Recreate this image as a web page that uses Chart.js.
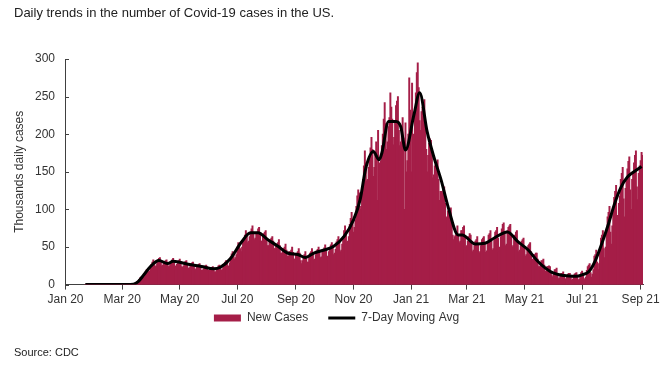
<!DOCTYPE html>
<html>
<head>
<meta charset="utf-8">
<script src="https://cdn.jsdelivr.net/npm/chart.js@4/dist/chart.umd.min.js"></script>
<style>
  body { margin: 0; background: #fff; }
  #wrap { position: relative; width: 670px; height: 365px; font-family: "Liberation Sans", Arial, sans-serif; color: #222; }
  #chart { position: absolute; left: 0; top: 0; }
  .note { position: absolute; left: 14px; white-space: nowrap; }
</style>
</head>
<body>
<div id="wrap">
  <canvas id="chart" width="670" height="365"></canvas>
  <div class="note" style="top:5px; font-size:13px">Daily trends in the number of Covid-19 cases in the US.</div>
  <div class="note" style="top:346px; font-size:11px">Source: CDC</div>
</div>
<script>
// daily new cases, thousands, one row per week (rows start on Wednesday, first row = 1 Jan 2020)
const startDate = "2020-01-01";
const newCases = [
  null, null, null, null, null, null, null,
  null, null, null, null, null, null, null,
  null, null, null, null, null, null, null,
  0, 0, 0, 0, 0, 0, 0, // Jan 22
  0, 0, 0, 0, 0, 0, 0,
  0, 0, 0, 0, 0, 0, 0,
  0, 0, 0, 0, 0, 0, 0,
  0, 0, 0, 0, 0, 0, 0,
  0, 0, 0, 0, 0, 0.1, 0.1, // Feb 26
  0.1, 0.1, 0.2, 0.2, 0.2, 0.4, 0.5,
  0.6, 0.9, 1.2, 1.5, 2.0, 2.8, 3.6,
  5, 7, 9, 10, 8, 10, 11, // Mar 18
  15, 18, 20, 20, 17, 18, 23,
  27, 30, 33, 30, 24, 25, 28, // Apr 1
  33, 35, 36, 31, 25, 26, 29,
  30, 32, 33, 30, 24, 25, 27,
  30, 33, 35, 32, 25, 24, 27,
  30, 32, 34, 30, 24, 23, 25, // Apr 29
  29, 31, 32, 28, 22, 22, 24,
  27, 29, 30, 26, 21, 20, 23,
  25, 27, 28, 24, 19, 19, 21,
  22, 25, 26, 24, 19, 19, 21, // May 27
  22, 23, 24, 22, 17, 17, 20,
  23, 25, 26, 24, 19, 20, 23,
  27, 30, 32, 30, 24, 25, 29,
  37, 41, 44, 42, 34, 36, 40, // Jun 24
  50, 56, 54, 48, 44, 50, 58,
  62, 66, 72, 66, 56, 58, 64,
  70, 74, 78, 70, 60, 62, 68,
  70, 74, 76, 68, 58, 58, 64, // Jul 22
  68, 70, 72, 62, 52, 52, 58,
  60, 62, 64, 58, 48, 48, 54,
  54, 56, 60, 52, 42, 42, 48,
  48, 50, 54, 46, 38, 38, 44, // Aug 19
  44, 46, 50, 43, 34, 34, 39,
  42, 44, 48, 42, 32, 28, 32,
  38, 40, 44, 38, 30, 30, 36,
  42, 44, 48, 42, 33, 34, 40, // Sep 16
  45, 47, 50, 45, 36, 37, 43,
  47, 49, 53, 47, 37, 38, 44,
  50, 53, 56, 50, 40, 42, 47,
  57, 60, 64, 56, 44, 46, 54, // Oct 14
  64, 72, 78, 70, 56, 58, 64,
  80, 88, 96, 86, 70, 76, 86,
  104, 118, 126, 122, 100, 104, 120,
  140, 158, 178, 162, 138, 140, 156, // Nov 11
  168, 182, 196, 180, 144, 156, 172,
  190, 112, 205, 162, 145, 165, 185,
  200, 220, 242, 214, 180, 190, 210,
  222, 255, 236, 220, 186, 196, 218, // Dec 9
  238, 244, 250, 205, 185, 190, 205,
  222, 195, 100, 215, 150, 165, 200,
  275, 232, 150, 268, 200, 190, 225,
  255, 282, 295, 262, 218, 205, 230, // Jan 6 2021
  236, 240, 246, 212, 180, 150, 172,
  188, 194, 192, 172, 142, 146, 158,
  160, 162, 166, 140, 112, 124, 124,
  122, 126, 130, 108, 88, 90, 98, // Feb 3
  98, 100, 102, 84, 66, 60, 64,
  66, 70, 78, 66, 56, 58, 72,
  72, 76, 78, 64, 50, 52, 58,
  64, 68, 66, 58, 44, 46, 52, // Mar 3
  58, 60, 64, 54, 42, 44, 52,
  60, 62, 64, 54, 43, 45, 55,
  66, 68, 72, 58, 46, 48, 60,
  70, 72, 76, 62, 44, 50, 64, // Mar 31
  74, 80, 82, 68, 52, 54, 72,
  76, 78, 80, 66, 50, 52, 64,
  66, 70, 72, 58, 44, 46, 52,
  58, 60, 62, 50, 38, 40, 48, // Apr 28
  52, 54, 56, 44, 32, 34, 40,
  40, 42, 42, 34, 24, 24, 30,
  32, 32, 34, 26, 18, 18, 24,
  24, 25, 24, 16, 12, 10, 16, // May 26
  20, 20, 22, 14, 8, 9, 12,
  15, 15, 17, 11, 7, 8, 12,
  14, 15, 15, 10, 6, 7, 10,
  14, 15, 16, 10, 6, 7, 11, // Jun 23
  16, 18, 14, 8, 6, 10, 19,
  24, 26, 28, 16, 10, 14, 20,
  38, 40, 46, 30, 20, 28, 42,
  62, 66, 72, 48, 36, 50, 68, // Jul 21
  90, 96, 104, 70, 54, 78, 98,
  116, 124, 132, 92, 72, 108, 118,
  140, 148, 156, 114, 90, 128, 138,
  154, 164, 170, 126, 100, 140, 150, // Aug 18
  162, 172, 178, 130, 113, 148, 158,
  165, 176, 172
];

// 7-day moving average
const avgDates = [
  "2020-01-22", "2020-02-15", "2020-03-05", "2020-03-13", "2020-03-18", "2020-03-24",
  "2020-03-31", "2020-04-09", "2020-04-18", "2020-04-24", "2020-05-10", "2020-05-24",
  "2020-06-06", "2020-06-13", "2020-06-24", "2020-07-05", "2020-07-15", "2020-07-23",
  "2020-08-02", "2020-08-13", "2020-08-23", "2020-09-03", "2020-09-11", "2020-09-20",
  "2020-10-01", "2020-10-11", "2020-10-22", "2020-11-01", "2020-11-08", "2020-11-14",
  "2020-11-22", "2020-11-28", "2020-12-01", "2020-12-08", "2020-12-16", "2020-12-21",
  "2020-12-26", "2021-01-04", "2021-01-10", "2021-01-18", "2021-01-25", "2021-02-02",
  "2021-02-09", "2021-02-20", "2021-02-24", "2021-03-10", "2021-03-20", "2021-03-30",
  "2021-04-13", "2021-04-24", "2021-05-05", "2021-05-15", "2021-05-29", "2021-06-12",
  "2021-06-25", "2021-07-01", "2021-07-08", "2021-07-15", "2021-07-22", "2021-07-29",
  "2021-08-04", "2021-08-11", "2021-08-18", "2021-08-25", "2021-09-02"
];
const avgValues = [
  0, 0, 0, 0.5, 4, 13,
  24, 32, 28, 31, 27, 24,
  21, 23, 35, 56, 69, 69,
  60, 51, 42, 40, 36, 42,
  46, 51, 64, 86, 113, 155,
  177, 166, 175, 217, 217, 210,
  179, 226, 255, 203, 170, 138,
  104, 66, 66, 54, 55, 62,
  70, 57, 46, 31, 17, 12,
  11, 13, 17, 32, 55, 81,
  106, 129, 143, 150, 157
];

const monthNames = ["Jan", "Feb", "Mar", "Apr", "May", "Jun", "Jul", "Aug", "Sep", "Oct", "Nov", "Dec"];
const barColor = "#A51E48";

// one label per day
const labels = [];
const t0 = Date.parse(startDate + "T00:00:00Z");
for (let i = 0; i < newCases.length; i++) {
  labels.push(new Date(t0 + i * 86400000).toISOString().slice(0, 10));
}

// the line only has values on the dates
const avgData = labels.map(() => null);
avgDates.forEach((d, i) => {
  const idx = labels.indexOf(d);
  if (idx >= 0) avgData[idx] = avgValues[i];
});

// ticks pointing inside on the value axis
const yTicksInside = {
  id: "yTicksInside",
  afterDraw(chart) {
    const y = chart.scales.y;
    const ctx = chart.ctx;
    ctx.save();
    ctx.strokeStyle = "#404040";
    ctx.lineWidth = 1;
    y.ticks.forEach((t) => {
      const py = Math.round(y.getPixelForValue(t.value)) + 0.5;
      ctx.beginPath();
      ctx.moveTo(y.right, py);
      ctx.lineTo(y.right + 4, py);
      ctx.stroke();
    });
    ctx.restore();
  },
};

// legend sits right under the date labels (legend padding is also the gap between items)
const legendUp = {
  id: "legendUp",
  beforeDraw(chart) {
    const lg = chart.legend;
    if (!lg || lg._movedUp) return;
    lg.top -= 18;
    lg.bottom -= 18;
    lg._movedUp = true;
  },
  afterUpdate(chart) {
    if (chart.legend) chart.legend._movedUp = false;
  },
};

Chart.defaults.font.family = '"Liberation Sans", Arial, sans-serif';
Chart.defaults.font.size = 12;
Chart.defaults.color = "#333";

const config = {
  type: "bar",
  data: {
    labels: labels,
    datasets: [
      {
        label: "New Cases",
        data: newCases,
        backgroundColor: barColor,
        borderWidth: 0,
        barThickness: 1.3,
        grouped: false,
        order: 1,
      },
      {
        type: "line",
        label: "7-Day Moving Avg",
        data: avgData,
        borderColor: "#000",
        backgroundColor: "#000",
        borderWidth: 3,
        pointRadius: 0,
        spanGaps: true,
        cubicInterpolationMode: "monotone",
        order: 0,
      },
    ],
  },
  options: {
    responsive: false,
    animation: false,
    layout: { padding: { left: 30, right: 27, top: 59, bottom: 13 } },
    plugins: {
      tooltip: { enabled: false },
      legend: {
        position: "bottom",
        labels: {
          usePointStyle: true,
          pointStyleWidth: 27,
          boxHeight: 7,
          padding: 20,
          color: "#333",
          sort: (a, b) => a.datasetIndex - b.datasetIndex,
          generateLabels: (chart) => {
            const items = Chart.defaults.plugins.legend.labels.generateLabels(chart);
            items.forEach((it) => {
              if (it.datasetIndex === 0) {
                it.pointStyle = "rect";
                it.lineWidth = 0;
                it.fillStyle = barColor;
              } else {
                it.pointStyle = "line";
                it.strokeStyle = "#000";
                it.lineWidth = 3;
              }
            });
            return items;
          },
        },
      },
    },
    scales: {
      x: {
        grid: { drawOnChartArea: false, drawTicks: true, tickLength: 5, offset: false, color: "#404040" },
        border: { color: "#404040" },
        afterBuildTicks: (axis) => {
          // keep the first day of every other month
          axis.ticks = axis.ticks.filter((t) => {
            const d = labels[t.value];
            return d.slice(8) === "01" && Number(d.slice(5, 7)) % 2 === 1;
          });
        },
        ticks: {
          autoSkip: false,
          maxRotation: 0,
          minRotation: 0,
          padding: 3,
          callback: function (value) {
            const d = this.getLabelForValue(value);
            return monthNames[Number(d.slice(5, 7)) - 1] + " " + d.slice(2, 4);
          },
        },
      },
      y: {
        min: 0,
        max: 300,
        grid: { display: false, drawTicks: false },
        border: { color: "#404040" },
        afterFit: (scale) => { scale.width = 35; },
        ticks: { stepSize: 50, padding: 10 },
        title: {
          display: true,
          text: "Thousands daily cases",
          padding: { top: -18, bottom: 0 },
        },
      },
    },
  },
  plugins: [yTicksInside, legendUp],
};

let chart = new Chart(document.getElementById("chart").getContext("2d"), config);
</script>
</body>
</html>
